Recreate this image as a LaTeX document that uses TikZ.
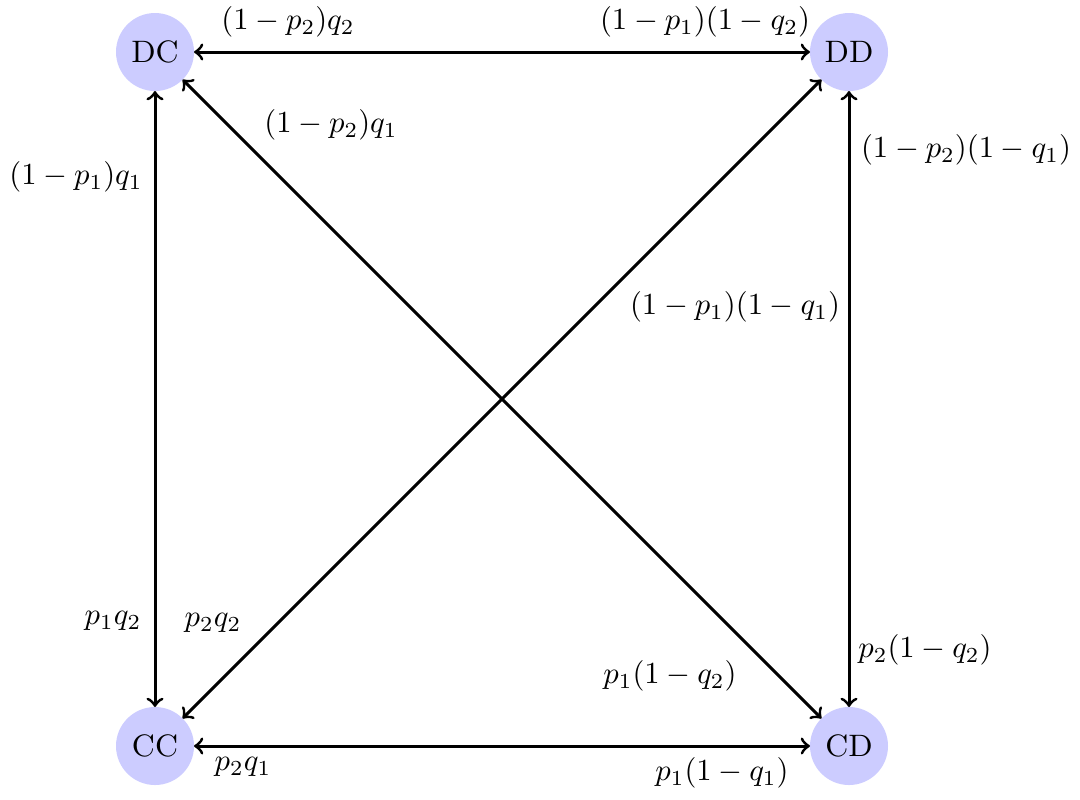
\documentclass[tikz,border=0pt]{standalone}
\usetikzlibrary{arrows}
\begin{document}
\begin{tikzpicture}[x=0.3pt,y=-0.3pt,
  state/.style={circle,fill=blue!20,draw=none,minimum size=23.4pt,inner sep=0pt,outer sep=0pt,font=\fontsize{9.3}{11}\selectfont},
  link/.style={<->,line width=0.9pt,>=to},
  lab/.style={inner sep=0pt,scale=0.92,transform shape}]
\useasboundingbox (0,0) rectangle (1080,799);
\node[state] (DC) at (155,52) {DC};
\node[state] (DD) at (849,52) {DD};
\node[state] (CC) at (155,746) {CC};
\node[state] (CD) at (849,746) {CD};
\draw[link] (DC) -- (DD);
\draw[link] (DC) -- (CC);
\draw[link] (DC) -- (CD);
\draw[link] (CC) -- (DD);
\draw[link] (DD) -- (CD);
\draw[link] (CC) -- (CD);
\node[lab] (l1) at (288,22) {$(1-p_2)q_2$};
\node[lab] (l2) at (705,22) {$(1-p_1)(1-q_2)$};
\node[lab] (l3) at (331,125) {$(1-p_2)q_1$};
\node[lab] (l4) at (76,177) {$(1-p_1)q_1$};
\node[lab] (l5) at (966,150) {$(1-p_2)(1-q_1)$};
\node[lab] (l6) at (735,307) {$(1-p_1)(1-q_1)$};
\node[lab] (l7) at (113,621) {$p_1q_2$};
\node[lab] (l8) at (213,623) {$p_2q_2$};
\node[lab] (l9) at (925,650) {$p_2(1-q_2)$};
\node[lab] (l10) at (670,676) {$p_1(1-q_2)$};
\node[lab] (l11) at (243,767) {$p_2q_1$};
\node[lab] (l12) at (722,773) {$p_1(1-q_1)$};
\end{tikzpicture}
\end{document}
